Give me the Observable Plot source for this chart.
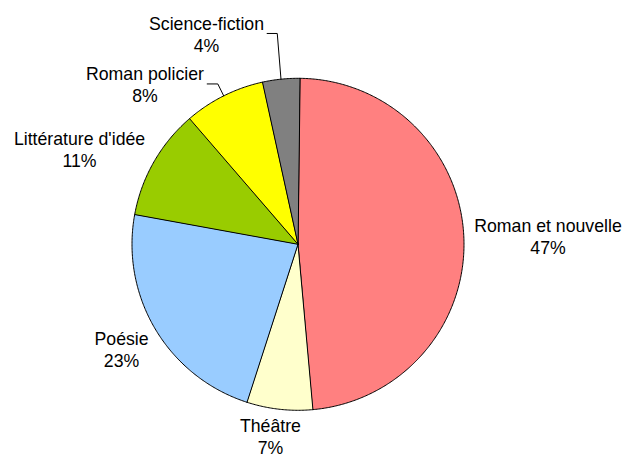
<!DOCTYPE html>
<html><head><meta charset="utf-8">
<script src="https://cdn.jsdelivr.net/npm/d3@7"></script>
<script src="https://cdn.jsdelivr.net/npm/@observablehq/plot@0.6"></script>
<style>body{margin:0;background:#fff}</style>
</head><body><div id="chart"></div>
<script>
// ---- data ----
const categories = ["Roman et nouvelle", "Théâtre", "Poésie", "Littérature d'idée", "Roman policier", "Science-fiction"];
const shares = [48.4, 6.4, 22.9, 10.8, 7.9, 3.6];          // slice sizes as drawn
const percentLabels = ["47%", "7%", "23%", "11%", "8%", "4%"]; // printed labels
const colors = ["#FF8080", "#FFFFCC", "#99CCFF", "#99CC00", "#FFFF00", "#808080"];

// ---- layout (in units of the pie radius, centre at 0,0) ----
const startAngle = 0.6;
const labelPos = [[1.506, 0.051], [-0.166, -1.155], [-1.063, -0.630], [-1.316, 0.577], [-0.922, 0.966], [-0.551, 1.270]];
const leaderX = {4: [-0.547, -0.483], 5: [-0.186, -0.125]};

const total = d3.sum(shares);
const rad = a => a * Math.PI / 180;
let acc = startAngle;
const slices = categories.map((name, i) => {
  const a0 = acc, a1 = acc + shares[i] / total * 360;
  acc = a1;
  return {name, i, a0, a1, mid: (a0 + a1) / 2, color: colors[i]};
});

const slicePts = s => {
  const pts = [{x: 0, y: 0}];
  const n = Math.max(2, Math.ceil((s.a1 - s.a0) / 0.5));
  for (let k = 0; k <= n; k++) {
    const a = rad(s.a0 + (s.a1 - s.a0) * k / n);
    pts.push({x: Math.sin(a), y: Math.cos(a)});
  }
  return pts;
};

const labels = slices.map(s => ({x: labelPos[s.i][0], y: labelPos[s.i][1], text: s.name + "\n" + percentLabels[s.i]}));

const leaderPts = slices.filter(s => leaderX[s.i]).flatMap(s => {
  const ly = labelPos[s.i][1];
  return [
    {z: s.name, x: leaderX[s.i][0], y: ly},
    {z: s.name, x: leaderX[s.i][1], y: ly},
    {z: s.name, x: Math.sin(rad(s.mid)), y: Math.cos(rad(s.mid))}
  ];
});

const cx = 297.5, cy = 243.8, R = 166, W = 624, H = 457;

const chart = Plot.plot({
  width: W, height: H, margin: 0,
  x: {domain: [-cx / R, (W - cx) / R], axis: null},
  y: {domain: [-(H - cy) / R, cy / R], axis: null},
  style: {fontFamily: "'Liberation Sans', Arial, sans-serif", background: "#fff"},
  marks: [
    ...slices.map(s => Plot.line(slicePts(s), {x: "x", y: "y", fill: s.color, stroke: "#000", strokeWidth: 1, curve: "linear-closed"})),
    Plot.line(leaderPts, {x: "x", y: "y", z: "z", stroke: "#000", strokeWidth: 1}),
    Plot.text(labels, {x: "x", y: "y", text: "text", fontSize: 17.7, lineHeight: 1.25, fill: "#000"})
  ]
});
document.getElementById("chart").appendChild(chart);
</script>
</body></html>
